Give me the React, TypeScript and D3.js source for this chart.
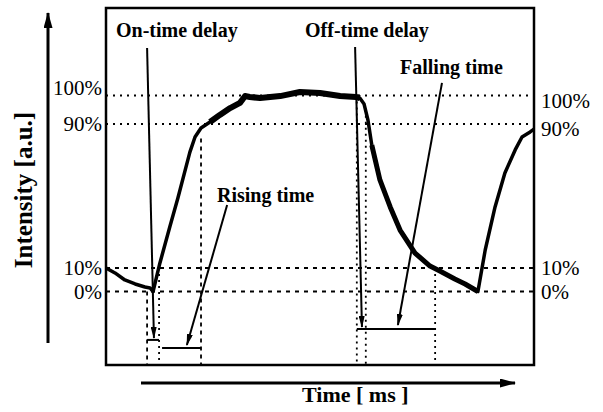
import React, { useEffect, useRef } from 'react';
import * as d3 from 'd3';

// measured trace, time in arbitrary ms units, intensity in %
const timeMs = [0, 2.1, 4.4, 6.8, 9.1, 10.3, 11.0, 12.6, 14.9, 16.8, 19.6, 20.8, 22.2, 24.3, 26.6, 29.0, 31.3, 32.5, 33.6, 36.0, 40.7, 45.3, 50.0, 54.7, 58.4, 59.3, 60.3, 61.2, 62.1, 64.0, 66.4, 68.7, 72.2, 75.7, 78.0, 81.5, 83.9, 86.9, 88.6, 90.9, 93.2, 95.6, 97.2, 99.1, 100];
const intensity = [10, 7.9, 4.9, 3.2, 1.9, 1.5, 0, 12.8, 32.8, 48.9, 74.4, 82.8, 87.8, 90.7, 93.2, 95.6, 97.4, 99.8, 99.5, 99.1, 99.8, 101.8, 101.3, 99.8, 99.5, 99.1, 97.0, 91.4, 78.3, 58.9, 43.9, 31.1, 18.3, 11.1, 8.7, 5.3, 3.2, 0, 20, 43.9, 62.8, 75.6, 82.8, 85.6, 87.2];

// reference levels
const levels = [0, 10, 90, 100];

// vertical guides: time and the level they start from
const guideTime = [9.6, 12.4, 22.2, 58.6, 60.7, 76.9];
const guideTop = [0, 10, 82, 100, 95, 10];

// interval brackets below the trace
const spanStart = [9.6, 13.1, 58.6];
const spanEnd = [12.4, 22.2, 76.9];
const spanLevel = [-24.7, -28.8, -19.1];

// annotation arrows
const noteText = ['On-time delay', 'Rising time', 'Off-time delay', 'Falling time'];
const arrowFromT = [9.6, 28.3, 58.2, 78.5];
const arrowFromI = [124.2, 45, 124.7, 106.4];
const arrowToT = [11.2, 18.9, 59.8, 68.2];
const arrowToI = [-23.7, -27.3, -18.1, -17.1];

const W = 603;
const H = 412;
const FONT = '"Liberation Serif", "DejaVu Serif", serif';

export default function App() {
  const svgRef = useRef<SVGSVGElement>(null);

  useEffect(() => {
    const svg = d3.select(svgRef.current);
    svg.selectAll('*').remove();

    const plot = { left: 106, right: 534, top: 8, bottom: 365 };

    const x = d3.scaleLinear().domain([0, 100]).range([plot.left, plot.right]);
    // schematic (piecewise) intensity axis
    const y = d3.scaleLinear()
      .domain([-37.5, 0, 10, 90, 100, 144.6])
      .range([plot.bottom, 291.5, 268, 124, 95.5, plot.top]);

    const defs = svg.append('defs');
    defs.append('marker')
      .attr('id', 'head')
      .attr('viewBox', '0 0 12 6')
      .attr('refX', 11)
      .attr('refY', 3)
      .attr('markerUnits', 'userSpaceOnUse')
      .attr('markerWidth', 12)
      .attr('markerHeight', 6)
      .attr('orient', 'auto')
      .append('path')
      .attr('d', 'M0,0 L12,3 L0,6 Z')
      .attr('fill', '#000');
    defs.append('marker')
      .attr('id', 'axisHead')
      .attr('viewBox', '0 0 16 9')
      .attr('refX', 15)
      .attr('refY', 4.5)
      .attr('markerUnits', 'userSpaceOnUse')
      .attr('markerWidth', 16)
      .attr('markerHeight', 9)
      .attr('orient', 'auto')
      .append('path')
      .attr('d', 'M0,0 L16,4.5 L0,9 Z')
      .attr('fill', '#000');

    // level guide lines
    svg.append('g')
      .selectAll('line')
      .data(levels)
      .join('line')
      .attr('x1', plot.left)
      .attr('x2', plot.right)
      .attr('y1', d => y(d))
      .attr('y2', d => y(d))
      .attr('stroke', '#000')
      .attr('stroke-width', d => (d >= 90 ? 1.8 : 2))
      .attr('stroke-dasharray', d => (d >= 90 ? '2,5' : '4,5'));

    // vertical guides
    svg.append('g')
      .selectAll('line')
      .data(guideTime)
      .join('line')
      .attr('x1', d => x(d))
      .attr('x2', d => x(d))
      .attr('y1', (d, i) => y(guideTop[i]))
      .attr('y2', plot.bottom)
      .attr('stroke', '#000')
      .attr('stroke-width', 1.8)
      .attr('stroke-dasharray', (d, i) => (i === 0 || i === 2 ? '4,4' : '2,4'));

    // brackets
    svg.append('g')
      .selectAll('line')
      .data(spanStart)
      .join('line')
      .attr('x1', d => x(d))
      .attr('x2', (d, i) => x(spanEnd[i]))
      .attr('y1', (d, i) => y(spanLevel[i]))
      .attr('y2', (d, i) => y(spanLevel[i]))
      .attr('stroke', '#000')
      .attr('stroke-width', 2);

    // trace
    const pts = timeMs.map((t, i) => [t, intensity[i]] as [number, number]);
    const line = d3.line<[number, number]>().x(d => x(d[0])).y(d => y(d[1]));
    svg.append('path')
      .attr('d', line(pts))
      .attr('fill', 'none')
      .attr('stroke', '#000')
      .attr('stroke-width', 3.5)
      .attr('stroke-linejoin', 'round');
    svg.append('path')
      .attr('d', line(pts.filter(d => d[0] >= 23 && d[0] <= 59.5)))
      .attr('fill', 'none')
      .attr('stroke', '#000')
      .attr('stroke-width', 6)
      .attr('stroke-linejoin', 'round');
    svg.append('path')
      .attr('d', line(pts.filter(d => d[0] >= 62 && d[0] <= 87)))
      .attr('fill', 'none')
      .attr('stroke', '#000')
      .attr('stroke-width', 5)
      .attr('stroke-linejoin', 'round');

    // frame
    svg.append('rect')
      .attr('x', plot.left)
      .attr('y', plot.top)
      .attr('width', plot.right - plot.left)
      .attr('height', plot.bottom - plot.top)
      .attr('fill', 'none')
      .attr('stroke', '#000')
      .attr('stroke-width', 2.5);

    // annotation arrows
    svg.append('g')
      .selectAll('line')
      .data(noteText)
      .join('line')
      .attr('x1', (d, i) => x(arrowFromT[i]))
      .attr('y1', (d, i) => y(arrowFromI[i]))
      .attr('x2', (d, i) => x(arrowToT[i]))
      .attr('y2', (d, i) => y(arrowToI[i]))
      .attr('stroke', '#000')
      .attr('stroke-width', 2)
      .attr('marker-end', 'url(#head)');

    const notePos = [[116, 37], [217, 202], [305, 37], [400, 74]];
    svg.append('g')
      .selectAll('text')
      .data(noteText)
      .join('text')
      .attr('x', (d, i) => notePos[i][0])
      .attr('y', (d, i) => notePos[i][1])
      .attr('font-family', FONT)
      .attr('font-weight', 'bold')
      .attr('font-size', 20)
      .text(d => d);

    // level labels, left and right
    svg.append('g')
      .selectAll('text')
      .data(levels)
      .join('text')
      .attr('x', 102)
      .attr('y', d => y(d) + (d === 100 ? -1 : 7))
      .attr('text-anchor', 'end')
      .attr('font-family', FONT)
      .attr('font-size', 21)
      .text(d => `${d}%`);
    svg.append('g')
      .selectAll('text')
      .data(levels)
      .join('text')
      .attr('x', 541)
      .attr('y', d => y(d) + (d >= 90 ? 12 : 7))
      .attr('font-family', FONT)
      .attr('font-size', 21)
      .text(d => `${d}%`);

    // axis arrows
    svg.append('line')
      .attr('x1', 48).attr('y1', 343)
      .attr('x2', 48).attr('y2', 13)
      .attr('stroke', '#000')
      .attr('stroke-width', 3)
      .attr('marker-end', 'url(#axisHead)');
    svg.append('line')
      .attr('x1', 141).attr('y1', 383)
      .attr('x2', 515).attr('y2', 383)
      .attr('stroke', '#000')
      .attr('stroke-width', 3)
      .attr('marker-end', 'url(#axisHead)');

    svg.append('text')
      .attr('transform', 'translate(32,190) rotate(-90)')
      .attr('text-anchor', 'middle')
      .attr('font-family', FONT)
      .attr('font-weight', 'bold')
      .attr('font-size', 25)
      .text('Intensity [a.u.]');

    svg.append('text')
      .attr('x', 302)
      .attr('y', 402)
      .attr('font-family', FONT)
      .attr('font-weight', 'bold')
      .attr('font-size', 22)
      .text('Time [ ms ]');
  }, []);

  return (
    <div style={{ position: 'fixed', left: 0, top: 0, width: W, height: H, background: '#fff' }}>
      <svg ref={svgRef} width={W} height={H} style={{ display: 'block' }} />
    </div>
  );
}
